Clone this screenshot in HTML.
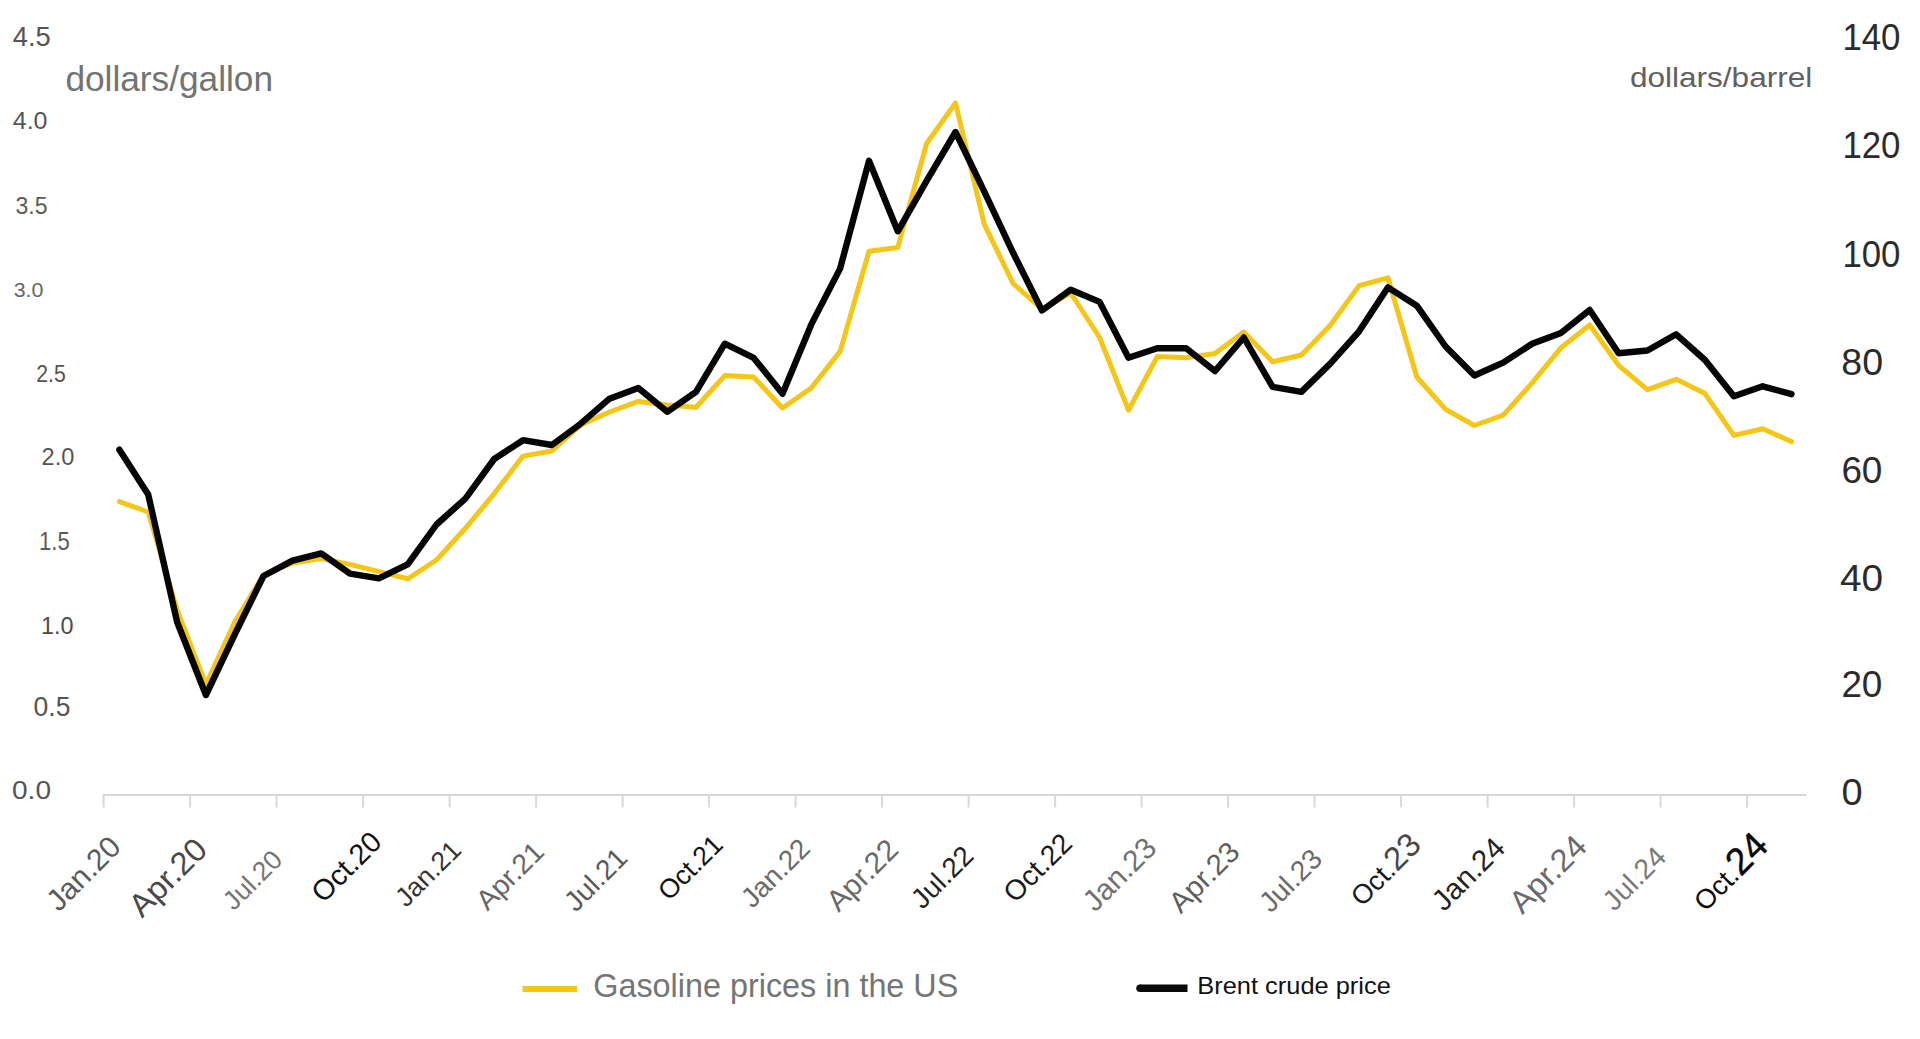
<!DOCTYPE html><html><head><meta charset="utf-8"><title>Gasoline vs Brent</title>
<style>html,body{margin:0;padding:0;background:#fff;overflow:hidden}svg{display:block}text{font-family:"Liberation Sans",sans-serif}</style></head><body>
<svg width="1920" height="1039" viewBox="0 0 1920 1039">
<rect width="1920" height="1039" fill="#fff"/>
<g stroke="#d8d8d8" stroke-width="2" fill="none">
<path d="M102.6 795H1806.5"/>
<path d="M103.6 795V807.5"/>
<path d="M190.1 795V807.5"/>
<path d="M276.6 795V807.5"/>
<path d="M363.1 795V807.5"/>
<path d="M449.6 795V807.5"/>
<path d="M536.1 795V807.5"/>
<path d="M622.6 795V807.5"/>
<path d="M709.1 795V807.5"/>
<path d="M795.6 795V807.5"/>
<path d="M882.1 795V807.5"/>
<path d="M968.6 795V807.5"/>
<path d="M1055.1 795V807.5"/>
<path d="M1141.6 795V807.5"/>
<path d="M1228.1 795V807.5"/>
<path d="M1314.6 795V807.5"/>
<path d="M1401.1 795V807.5"/>
<path d="M1487.6 795V807.5"/>
<path d="M1574.1 795V807.5"/>
<path d="M1660.6 795V807.5"/>
<path d="M1747.1 795V807.5"/>
</g>
<polyline points="119.4,501.7 148.2,512.0 177.1,610.0 205.9,684.5 234.7,622.0 263.5,575.0 292.4,563.0 321.2,558.6 350.0,564.4 378.9,571.6 407.7,578.8 436.5,560.0 465.4,528.3 494.2,493.6 523.0,456.1 551.9,451.0 580.7,425.0 609.5,412.0 638.3,401.4 667.2,405.0 696.0,407.2 724.8,375.6 753.7,377.1 782.5,408.0 811.3,388.0 840.1,351.4 869.0,251.3 897.8,247.4 926.6,143.5 955.5,103.0 984.3,224.3 1013.1,283.5 1042.0,309.0 1070.8,293.0 1099.6,337.5 1128.5,410.2 1157.3,356.5 1186.1,357.7 1214.9,353.6 1243.8,332.0 1272.6,361.7 1301.4,355.0 1330.3,325.3 1359.1,285.6 1387.9,277.8 1416.8,377.0 1445.6,409.4 1474.4,425.5 1503.2,415.2 1532.1,382.8 1560.9,347.8 1589.7,325.0 1618.6,365.3 1647.4,389.6 1676.2,379.3 1705.0,393.6 1733.9,435.4 1762.7,428.7 1791.5,441.6" fill="none" stroke="#f5c518" stroke-width="5" stroke-linejoin="round" stroke-linecap="round"/>
<polyline points="119.4,449.7 148.2,494.5 177.1,622.0 205.9,695.0 234.7,634.5 263.5,576.0 292.4,560.6 321.2,553.4 350.0,573.6 378.9,578.3 407.7,564.4 436.5,524.5 465.4,498.6 494.2,459.0 523.0,440.2 551.9,445.0 580.7,423.7 609.5,398.7 638.3,388.0 667.2,411.8 696.0,391.8 724.8,343.7 753.7,357.9 782.5,393.7 811.3,324.4 840.1,268.6 869.0,160.8 897.8,231.3 926.6,180.8 955.5,132.0 984.3,191.6 1013.1,252.8 1042.0,310.5 1070.8,289.7 1099.6,301.9 1128.5,357.7 1157.3,348.2 1186.1,348.2 1214.9,371.1 1243.8,337.5 1272.6,386.8 1301.4,391.9 1330.3,363.6 1359.1,331.3 1387.9,287.4 1416.8,305.7 1445.6,346.5 1474.4,375.5 1503.2,362.6 1532.1,343.8 1560.9,333.0 1589.7,310.0 1618.6,353.2 1647.4,350.5 1676.2,334.3 1705.0,360.0 1733.9,396.3 1762.7,386.3 1791.5,394.2" fill="none" stroke="#050505" stroke-width="6.4" stroke-linejoin="round" stroke-linecap="round"/>
<text x="12.8" y="45.65" font-size="27.29" fill="#555" textLength="38.02" lengthAdjust="spacingAndGlyphs">4.5</text>
<text x="12.8" y="128.95" font-size="23.71" fill="#555" textLength="34.7" lengthAdjust="spacingAndGlyphs">4.0</text>
<text x="15.5" y="213.95" font-size="24.43" fill="#5a5a5a" textLength="32.0" lengthAdjust="spacingAndGlyphs">3.5</text>
<text x="13.68" y="297.15" font-size="21.14" fill="#666" textLength="29.7" lengthAdjust="spacingAndGlyphs">3.0</text>
<text x="36.24" y="381.95" font-size="23.29" fill="#555" textLength="29.46" lengthAdjust="spacingAndGlyphs">2.5</text>
<text x="41.56" y="464.95" font-size="23.29" fill="#555" textLength="32.76" lengthAdjust="spacingAndGlyphs">2.0</text>
<text x="39.0" y="550.05" font-size="26.57" fill="#5a5a5a" textLength="30.7" lengthAdjust="spacingAndGlyphs">1.5</text>
<text x="40.94" y="633.65" font-size="24.43" fill="#4a4a4a" textLength="32.44" lengthAdjust="spacingAndGlyphs">1.0</text>
<text x="33.62" y="716.05" font-size="26.86" fill="#555" textLength="36.88" lengthAdjust="spacingAndGlyphs">0.5</text>
<text x="12.0" y="798.95" font-size="26.57" fill="#555" textLength="39.0" lengthAdjust="spacingAndGlyphs">0.0</text>
<text x="1842.4" y="50" font-size="36.3" fill="#2b2b2b" textLength="58.04" lengthAdjust="spacingAndGlyphs">140</text>
<text x="1842.4" y="158" font-size="36.3" fill="#2b2b2b" textLength="58.04" lengthAdjust="spacingAndGlyphs">120</text>
<text x="1842.4" y="267" font-size="36.3" fill="#2b2b2b" textLength="58.04" lengthAdjust="spacingAndGlyphs">100</text>
<text x="1841.38" y="375" font-size="36.3" fill="#2b2b2b" textLength="41.8" lengthAdjust="spacingAndGlyphs">80</text>
<text x="1841.38" y="483" font-size="36.3" fill="#2b2b2b" textLength="41.0" lengthAdjust="spacingAndGlyphs">60</text>
<text x="1840.0" y="591" font-size="36.3" fill="#2b2b2b" textLength="43.18" lengthAdjust="spacingAndGlyphs">40</text>
<text x="1841.38" y="697" font-size="36.3" fill="#2b2b2b" textLength="41.0" lengthAdjust="spacingAndGlyphs">20</text>
<text x="1841.56" y="805" font-size="36.3" fill="#2b2b2b" textLength="21.12" lengthAdjust="spacingAndGlyphs">0</text>
<text x="65.44" y="91.3" font-size="35.0" fill="#737373" textLength="207.6" lengthAdjust="spacingAndGlyphs">dollars/gallon</text>
<text x="1629.9" y="86.8" font-size="28.5" fill="#606060" textLength="182.4" lengthAdjust="spacingAndGlyphs">dollars/barrel</text>
<text x="593.3" y="997.4" font-size="33.0" fill="#757575" textLength="365.0" lengthAdjust="spacingAndGlyphs">Gasoline prices in the US</text>
<text x="1197.3" y="993.9" font-size="23.2" fill="#111" textLength="193.5" lengthAdjust="spacingAndGlyphs">Brent crude price</text>
<text transform="translate(122.50 848.76) rotate(-45)" x="-90.34" y="0" font-size="30.09" fill="#5a5a5a" textLength="90.34" lengthAdjust="spacingAndGlyphs">Jan.20</text>
<text transform="translate(209.10 851.54) rotate(-45)" x="-94.93" y="0" font-size="32.22" fill="#484848" textLength="94.93" lengthAdjust="spacingAndGlyphs">Apr.20</text>
<text transform="translate(283.90 861.43) rotate(-45)" x="-70.75" y="0" font-size="26.52" fill="#757575" textLength="70.75" lengthAdjust="spacingAndGlyphs">Jul.20</text>
<text transform="translate(383.40 843.77) rotate(-45)" x="-85.03" y="0" font-size="28.86" fill="#111" textLength="85.03" lengthAdjust="spacingAndGlyphs">Oct.20</text>
<text transform="translate(462.60 851.71) rotate(-45)" x="-79.81" y="0" font-size="26.59" fill="#333" textLength="79.81" lengthAdjust="spacingAndGlyphs">Jan.21</text>
<text transform="translate(545.80 853.42) rotate(-45)" x="-82.58" y="0" font-size="28.03" fill="#666" textLength="82.58" lengthAdjust="spacingAndGlyphs">Apr.21</text>
<text transform="translate(629.10 859.60) rotate(-45)" x="-75.40" y="0" font-size="28.26" fill="#5a5a5a" textLength="75.40" lengthAdjust="spacingAndGlyphs">Jul.21</text>
<text transform="translate(724.50 846.19) rotate(-45)" x="-78.57" y="0" font-size="26.67" fill="#111" textLength="78.57" lengthAdjust="spacingAndGlyphs">Oct.21</text>
<text transform="translate(811.60 850.17) rotate(-45)" x="-83.70" y="0" font-size="27.88" fill="#6a6a6a" textLength="83.70" lengthAdjust="spacingAndGlyphs">Jan.22</text>
<text transform="translate(900.00 851.51) rotate(-45)" x="-87.11" y="0" font-size="29.57" fill="#6a6a6a" textLength="87.11" lengthAdjust="spacingAndGlyphs">Apr.22</text>
<text transform="translate(975.30 857.48) rotate(-45)" x="-74.55" y="0" font-size="27.94" fill="#222" textLength="74.55" lengthAdjust="spacingAndGlyphs">Jul.22</text>
<text transform="translate(1073.90 845.02) rotate(-45)" x="-83.31" y="0" font-size="28.28" fill="#1a1a1a" textLength="83.31" lengthAdjust="spacingAndGlyphs">Oct.22</text>
<text transform="translate(1158.10 849.79) rotate(-45)" x="-89.27" y="0" font-size="29.74" fill="#707070" textLength="89.27" lengthAdjust="spacingAndGlyphs">Jan.23</text>
<text transform="translate(1241.30 853.83) rotate(-45)" x="-85.64" y="0" font-size="29.07" fill="#5e5e5e" textLength="85.64" lengthAdjust="spacingAndGlyphs">Apr.23</text>
<text transform="translate(1323.90 860.67) rotate(-45)" x="-75.15" y="0" font-size="28.17" fill="#6a6a6a" textLength="75.15" lengthAdjust="spacingAndGlyphs">Jul.23</text>
<g transform="translate(1423.00 846.49) rotate(-45)"><text x="-86.32" y="0" font-size="27.05" fill="#1a1a1a" textLength="49.61" lengthAdjust="spacingAndGlyphs">Oct.</text><text x="-36.70" y="0" font-size="33.00" fill="#484848" stroke="#484848" stroke-width="0" textLength="36.70" lengthAdjust="spacingAndGlyphs">23</text></g>
<text transform="translate(1506.80 849.80) rotate(-45)" x="-88.70" y="0" font-size="29.55" fill="#222" textLength="88.70" lengthAdjust="spacingAndGlyphs">Jan.24</text>
<text transform="translate(1588.90 848.45) rotate(-45)" x="-94.39" y="0" font-size="32.04" fill="#6a6a6a" textLength="94.39" lengthAdjust="spacingAndGlyphs">Apr.24</text>
<text transform="translate(1667.80 858.67) rotate(-45)" x="-75.63" y="0" font-size="28.35" fill="#7a7a7a" textLength="75.63" lengthAdjust="spacingAndGlyphs">Jul.24</text>
<g transform="translate(1770.20 847.74) rotate(-45)"><text x="-91.71" y="0" font-size="27.22" fill="#0a0a0a" textLength="49.93" lengthAdjust="spacingAndGlyphs">Oct.</text><text x="-41.78" y="0" font-size="37.57" fill="#0a0a0a" stroke="#0a0a0a" stroke-width="0.45" textLength="41.78" lengthAdjust="spacingAndGlyphs">24</text></g>
<path d="M522.5 988.9H577" stroke="#f5c518" stroke-width="6" stroke-linecap="butt"/>
<path d="M1140 988.3H1187.5" stroke="#0a0a0a" stroke-width="7.5" stroke-linecap="butt"/>
<circle cx="1140" cy="988.3" r="3.75" fill="#0a0a0a"/>
</svg></body></html>
